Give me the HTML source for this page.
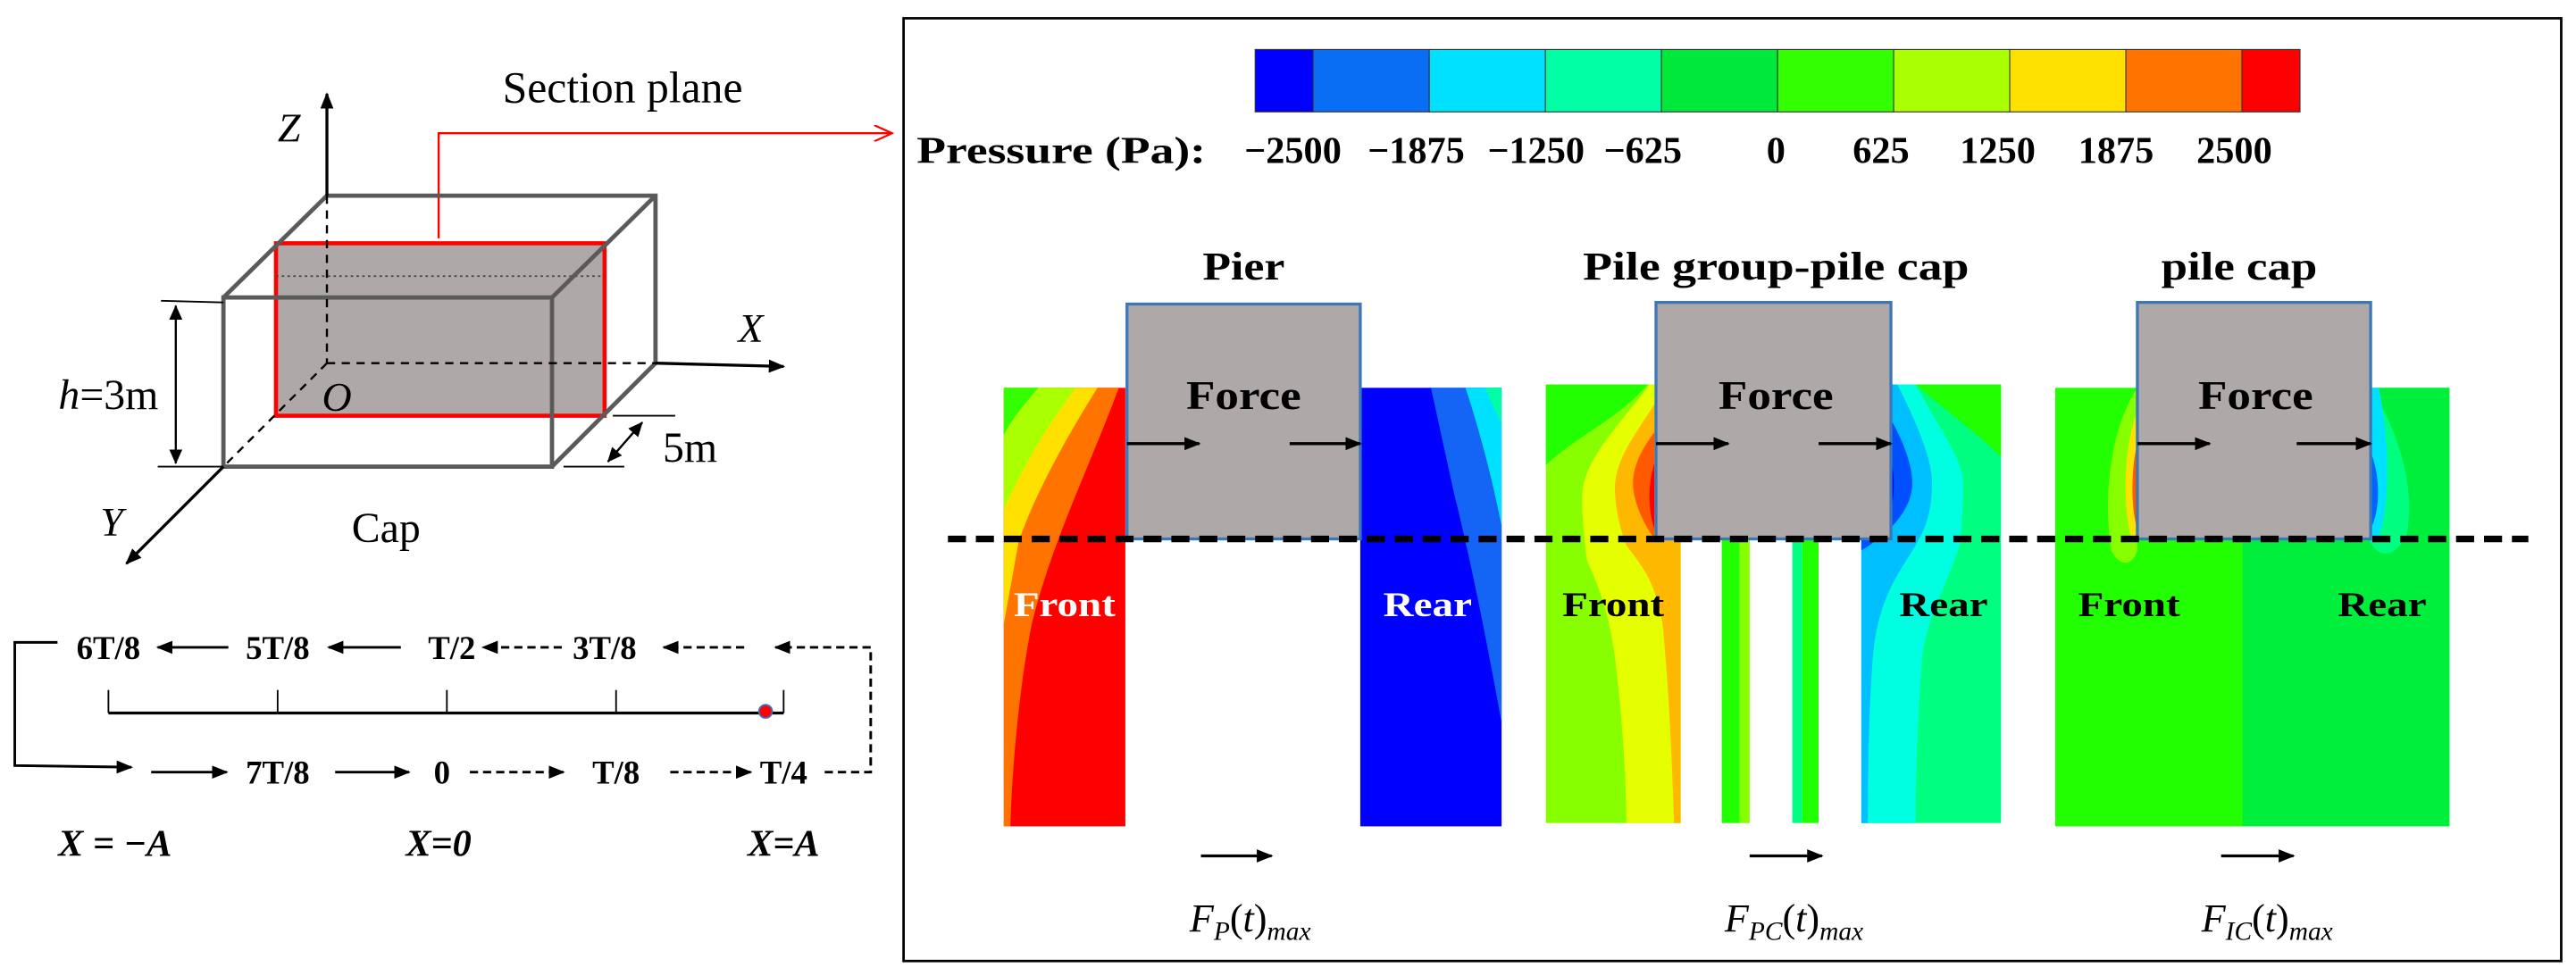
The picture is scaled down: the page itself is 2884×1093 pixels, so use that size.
<!DOCTYPE html>
<html><head><meta charset="utf-8"><style>
html,body{margin:0;padding:0;background:#fff;}
svg{display:block;}
.serif{font-family:"Liberation Serif",serif;}
</style></head><body>
<svg id="fig" width="2884" height="1093" viewBox="0 0 1568 594" xmlns="http://www.w3.org/2000/svg">
<defs>
<marker id="ah" markerWidth="10" markerHeight="8" refX="9" refY="4" orient="auto" markerUnits="userSpaceOnUse"><path d="M0,0 L10,4 L0,8 Z" fill="#000"/></marker>
<marker id="ahr" markerWidth="12" markerHeight="10" refX="11" refY="5" orient="auto" markerUnits="userSpaceOnUse"><path d="M0,0 L11,5 L0,10" fill="none" stroke="#f00" stroke-width="1.2"/></marker>
<marker id="dimA" markerWidth="9" markerHeight="8" refX="8.5" refY="4" orient="auto-start-reverse" markerUnits="userSpaceOnUse"><path d="M0,0 L9,4 L0,8 Z" fill="#000"/></marker>
</defs>

<!-- LEFT PANEL -->
<g>
  <text x="379" y="62" class="serif" font-size="27" text-anchor="middle">Section plane</text>
  <polyline points="267,145 267,81 543,81" fill="none" stroke="#f00" stroke-width="1.3" marker-end="url(#ahr)"/>
  <rect x="168" y="148" width="200" height="105" fill="#aea9a8" stroke="#f00" stroke-width="2.5"/>
  <line x1="168" y1="168" x2="368" y2="168" stroke="#444" stroke-width="1" stroke-dasharray="1.5,2"/>
  <g stroke="#5a5a5a" stroke-width="2.6" fill="none">
    <polyline points="136,181 199,119 399,119 399,221"/>
    <line x1="336" y1="181" x2="399" y2="119"/>
    <line x1="336" y1="284" x2="399" y2="221"/>
    <rect x="136" y="181" width="200" height="103"/>
  </g>
  <line x1="199" y1="57" x2="199" y2="119" stroke="#000" stroke-width="1.8" marker-end="url(#ah)" transform="rotate(180 199 88)"/>
  <line x1="199" y1="119" x2="199" y2="221" stroke="#000" stroke-width="1.3" stroke-dasharray="5,4"/>
  <line x1="199" y1="221" x2="399" y2="221" stroke="#000" stroke-width="1.3" stroke-dasharray="5,4"/>
  <line x1="399" y1="221" x2="477" y2="223" stroke="#000" stroke-width="1.8" marker-end="url(#ah)"/>
  <line x1="199" y1="221" x2="136" y2="284" stroke="#000" stroke-width="1.3" stroke-dasharray="5,4"/>
  <line x1="136" y1="284" x2="77" y2="343" stroke="#000" stroke-width="1.8" marker-end="url(#ah)"/>
  <text x="176" y="86" class="serif" font-size="25" font-style="italic" text-anchor="middle">Z</text>
  <text x="457" y="208" class="serif" font-size="25" font-style="italic" text-anchor="middle">X</text>
  <text x="68" y="326" class="serif" font-size="25" font-style="italic" text-anchor="middle">Y</text>
  <text x="205" y="250" class="serif" font-size="25" font-style="italic" text-anchor="middle">O</text>
  <text x="66" y="249" class="serif" font-size="26" text-anchor="middle"><tspan font-style="italic">h</tspan>=3m</text>
  <line x1="98" y1="183" x2="136" y2="184" stroke="#000" stroke-width="1"/>
  <line x1="96" y1="284" x2="136" y2="284" stroke="#000" stroke-width="1"/>
  <line x1="107" y1="186" x2="107" y2="282" stroke="#000" stroke-width="1.3" marker-start="url(#dimA)" marker-end="url(#dimA)"/>
  <line x1="373" y1="253" x2="411" y2="253" stroke="#000" stroke-width="1"/>
  <line x1="343" y1="284" x2="380" y2="284" stroke="#000" stroke-width="1"/>
  <line x1="370" y1="281" x2="391" y2="257" stroke="#000" stroke-width="1.3" marker-start="url(#dimA)" marker-end="url(#dimA)"/>
  <text x="420" y="281" class="serif" font-size="26" text-anchor="middle">5m</text>
  <text x="235" y="330" class="serif" font-size="26" text-anchor="middle">Cap</text>
</g>

<g class="serif" font-weight="bold" font-size="20">
  <line x1="66" y1="434" x2="477" y2="434" stroke="#000" stroke-width="1.8"/>
  <g stroke="#000" stroke-width="1">
    <line x1="66" y1="420" x2="66" y2="434"/><line x1="169" y1="420" x2="169" y2="434"/>
    <line x1="272" y1="420" x2="272" y2="434"/><line x1="375" y1="420" x2="375" y2="434"/>
    <line x1="477" y1="420" x2="477" y2="434"/>
  </g>
  <circle cx="466" cy="433" r="4" fill="#f00" stroke="#3a6fc0" stroke-width="1"/>
  <text x="66" y="401" text-anchor="middle">6T/8</text>
  <text x="169" y="401" text-anchor="middle">5T/8</text>
  <text x="275" y="401" text-anchor="middle">T/2</text>
  <text x="368" y="401" text-anchor="middle">3T/8</text>
  <text x="169" y="477" text-anchor="middle">7T/8</text>
  <text x="269" y="477" text-anchor="middle">0</text>
  <text x="375" y="477" text-anchor="middle">T/8</text>
  <text x="477" y="477" text-anchor="middle">T/4</text>
  <g stroke="#000" stroke-width="1.6" fill="none">
    <line x1="139" y1="394" x2="96" y2="394" marker-end="url(#ah)"/>
    <line x1="244" y1="394" x2="200" y2="394" marker-end="url(#ah)"/>
    <line x1="342" y1="394" x2="294" y2="394" stroke-dasharray="5,3" marker-end="url(#ah)"/>
    <line x1="453" y1="394" x2="404" y2="394" stroke-dasharray="5,3" marker-end="url(#ah)"/>
    <line x1="92" y1="470" x2="138" y2="470" marker-end="url(#ah)"/>
    <line x1="204" y1="470" x2="249" y2="470" marker-end="url(#ah)"/>
    <line x1="286" y1="470" x2="343" y2="470" stroke-dasharray="5,3" marker-end="url(#ah)"/>
    <line x1="408" y1="470" x2="457" y2="470" stroke-dasharray="5,3" marker-end="url(#ah)"/>
    <polyline points="35,391 9,391 9,466 80,467" marker-end="url(#ah)"/>
    <polyline points="502,470 530,470 530,394 472,394" stroke-dasharray="5,3" marker-end="url(#ah)"/>
  </g>
  <text x="70" y="521" font-size="23" font-style="italic" text-anchor="middle">X = −A</text>
  <text x="267" y="521" font-size="23" font-style="italic" text-anchor="middle">X=0</text>
  <text x="477" y="521" font-size="23" font-style="italic" text-anchor="middle">X=A</text>
</g>

<!-- RIGHT PANEL -->
<rect x="550" y="11" width="1009" height="574" fill="none" stroke="#000" stroke-width="1.5"/>
<g id="colorbar"></g>
<text x="558" y="99" class="serif" font-weight="bold" font-size="23" textLength="176" lengthAdjust="spacingAndGlyphs">Pressure (Pa):</text>
<g id="cbticks" class="serif" font-weight="bold" font-size="23"></g>

<g class="serif" font-weight="bold" font-size="24" text-anchor="middle">
  <text x="757" y="170" textLength="50" lengthAdjust="spacingAndGlyphs">Pier</text>
  <text x="1081" y="170" textLength="235" lengthAdjust="spacingAndGlyphs">Pile group-pile cap</text>
  <text x="1363" y="170" textLength="95" lengthAdjust="spacingAndGlyphs">pile cap</text>
</g>

<!-- Pier contours -->
<g>
  <rect x="611" y="236" width="74" height="267" fill="#ff0000"/>
  <path d="M611,236 L681,236 C665,280 640,330 628,380 C620,420 616,470 615,503 L611,503 Z" fill="#ff7300"/>
  <path d="M611,236 L668,236 C650,265 630,300 620,330 L611,380 Z" fill="#ffe100"/>
  <path d="M611,236 L655,236 C638,258 622,285 611,310 Z" fill="#aaff00"/>
  <path d="M611,236 L632,236 C622,248 615,256 611,265 Z" fill="#33ff00"/>
  <rect x="828" y="236" width="86" height="267" fill="#0000ff"/>
  <path d="M871,236 L914,236 L914,440 C905,390 895,340 885,300 Z" fill="#1464f5"/>
  <path d="M892,236 L914,236 L914,320 C908,290 900,260 892,236 Z" fill="#00e1ff"/>
  <path d="M904,236 L914,236 L914,258 Z" fill="#00ffa5"/>
</g>
<!-- Pile group contours -->
<g>
  <rect x="941" y="234" width="82" height="267" fill="#88ff00"/>
  <path d="M941,234 L1003,234 C985,255 960,265 941,283 Z" fill="#22ff00"/>
  <path d="M1004,234 C985,260 963,280 963,303 C963,320 966,341 966,341 C972,355 979,370 983,400 C988,440 990,480 990,501 L1023,501 L1023,234 Z" fill="#e5ff00"/>
  <path d="M1007,246 C995,265 983,280 983,297 C983,315 990,332 990,332 C1000,345 1008,355 1012,380 C1016,420 1018,470 1019,501 L1023,501 L1023,246 Z" fill="#ffb800"/>
  <path d="M1007,263 C998,275 994,285 994,294 C994,305 1000,318 1007,328 Z" fill="#ff5a00"/>
  <path d="M1007,282 C1003,295 1003,310 1007,322 Z" fill="#ff0000"/>
  <rect x="1048" y="328" width="11" height="173" fill="#22ff00"/>
  <rect x="1059" y="328" width="6" height="173" fill="#88ff00"/>
  <rect x="1091" y="328" width="6" height="173" fill="#00ff80"/>
  <rect x="1097" y="328" width="10" height="173" fill="#22ff00"/>
  <rect x="1149" y="234" width="69" height="94" fill="#00ff80"/>
  <rect x="1133" y="328" width="85" height="173" fill="#00ff80"/>
  <path d="M1166,234 C1185,250 1205,265 1218,278 L1218,234 Z" fill="#22ff00"/>
  <path d="M1149,234 L1166,234 C1180,260 1195,280 1195,294 C1195,315 1193,332 1193,332 C1183,360 1172,380 1170,400 C1167,440 1166,480 1166,501 L1133,501 L1133,328 L1149,328 Z" fill="#00ffe0"/>
  <path d="M1149,234 L1155,234 C1168,260 1176,280 1176,294 C1176,315 1170,325 1166,332 C1155,350 1143,365 1140,400 C1137,440 1137,480 1137,501 L1133,501 L1133,328 L1149,328 Z" fill="#00bfff"/>
  <path d="M1149,252 C1160,270 1164,285 1164,294 C1164,310 1150,325 1133,335 L1133,328 L1149,328 Z" fill="#0050ff"/>
  <path d="M1149,274 C1154,285 1154,305 1149,316 Z" fill="#0000ff"/>
</g>
<!-- Pile cap contours -->
<g>
  <rect x="1251" y="236" width="240" height="267" fill="#22ff00"/>
  <rect x="1365" y="236" width="126" height="267" fill="#00ee3c"/>
  <path d="M1301,236 C1285,260 1280,300 1285,335 C1290,345 1298,345 1301,335 Z" fill="#88ff00"/>
  <path d="M1301,250 C1292,275 1292,310 1298,330 L1301,330 Z" fill="#ffe100"/>
  <path d="M1301,270 C1297,285 1297,310 1301,322 Z" fill="#ff5a00"/>
  <path d="M1443,236 C1462,265 1470,300 1465,325 C1458,340 1448,340 1443,330 Z" fill="#00ff80"/>
  <path d="M1443,236 L1448,236 C1455,270 1455,310 1447,330 L1443,330 Z" fill="#00e1ff"/>
  <path d="M1443,275 C1449,290 1449,310 1443,322 Z" fill="#0064ff"/>
</g>

<!-- Grey boxes -->
<g fill="#aea9a8" stroke="#3c78b8" stroke-width="1.8">
  <rect x="686" y="185" width="142" height="143"/>
  <rect x="1008" y="184" width="143" height="144"/>
  <rect x="1301" y="184" width="142" height="144"/>
</g>
<g class="serif" font-weight="bold" font-size="25" text-anchor="middle">
  <text x="757" y="249" textLength="70" lengthAdjust="spacingAndGlyphs">Force</text>
  <text x="1081" y="249" textLength="70" lengthAdjust="spacingAndGlyphs">Force</text>
  <text x="1373" y="249" textLength="70" lengthAdjust="spacingAndGlyphs">Force</text>
</g>
<g stroke="#000" stroke-width="1.8">
  <line x1="686" y1="270" x2="730" y2="270" marker-end="url(#ah)"/>
  <line x1="785" y1="270" x2="828" y2="270" marker-end="url(#ah)"/>
  <line x1="1008" y1="270" x2="1052" y2="270" marker-end="url(#ah)"/>
  <line x1="1107" y1="270" x2="1151" y2="270" marker-end="url(#ah)"/>
  <line x1="1301" y1="270" x2="1345" y2="270" marker-end="url(#ah)"/>
  <line x1="1398" y1="270" x2="1443" y2="270" marker-end="url(#ah)"/>
</g>
<line x1="577" y1="328" x2="1539" y2="328" stroke="#000" stroke-width="4" stroke-dasharray="11,6"/>
<g class="serif" font-weight="bold" font-size="21" text-anchor="middle">
  <text x="648" y="375" fill="#fff" textLength="62" lengthAdjust="spacingAndGlyphs">Front</text>
  <text x="869" y="375" fill="#fff" textLength="54" lengthAdjust="spacingAndGlyphs">Rear</text>
  <text x="982" y="375" textLength="62" lengthAdjust="spacingAndGlyphs">Front</text>
  <text x="1183" y="375" textLength="54" lengthAdjust="spacingAndGlyphs">Rear</text>
  <text x="1296" y="375" textLength="62" lengthAdjust="spacingAndGlyphs">Front</text>
  <text x="1450" y="375" textLength="54" lengthAdjust="spacingAndGlyphs">Rear</text>
</g>
<g stroke="#000" stroke-width="1.8">
  <line x1="731" y1="521" x2="774" y2="521" marker-end="url(#ah)"/>
  <line x1="1065" y1="521" x2="1109" y2="521" marker-end="url(#ah)"/>
  <line x1="1352" y1="521" x2="1396" y2="521" marker-end="url(#ah)"/>
</g>
<g class="serif" font-size="24" text-anchor="middle" font-style="italic">
  <text x="761" y="567">F<tspan font-size="16" dy="5">P</tspan><tspan dy="-5" font-style="normal">(</tspan>t<tspan font-style="normal">)</tspan><tspan font-size="16" dy="5">max</tspan></text>
  <text x="1092" y="567">F<tspan font-size="16" dy="5">PC</tspan><tspan dy="-5" font-style="normal">(</tspan>t<tspan font-style="normal">)</tspan><tspan font-size="16" dy="5">max</tspan></text>
  <text x="1380" y="567">F<tspan font-size="16" dy="5">IC</tspan><tspan dy="-5" font-style="normal">(</tspan>t<tspan font-style="normal">)</tspan><tspan font-size="16" dy="5">max</tspan></text>
</g>
</svg>
<script>
const levelColors = ["#0000ff","#0a6ef5","#00e1ff","#00ffa5","#00e83a","#33ff00","#aaff00","#ffe100","#ff7300","#ff0000"];
const levelWidths = [0.5,1,1,1,1,1,1,1,1,0.5];
const tickValues = [-2500,-1875,-1250,-625,0,625,1250,1875,2500];
const tickLabelX = [787,862,935,1000,1081,1145,1216,1288,1360];
(function(){
  const NS="http://www.w3.org/2000/svg";
  const cb=document.getElementById('colorbar');
  const x0=764,x1=1400,y0=30,h=38;
  const total=levelWidths.reduce((a,b)=>a+b,0);
  let x=x0;
  levelColors.forEach((c,i)=>{
    const w=(x1-x0)*levelWidths[i]/total;
    const r=document.createElementNS(NS,'rect');
    r.setAttribute('x',x);r.setAttribute('y',y0);r.setAttribute('width',w);r.setAttribute('height',h);
    r.setAttribute('fill',c);r.setAttribute('stroke','#333');r.setAttribute('stroke-width','0.6');
    
    
    cb.appendChild(r);
    x+=w;
  });
  const g=document.getElementById('cbticks');
  tickValues.forEach((v,i)=>{
    const t=document.createElementNS(NS,'text');
    t.setAttribute('x',tickLabelX[i]);t.setAttribute('y',99);t.setAttribute('text-anchor','middle');
    t.textContent=(v<0?'\u2212'+Math.abs(v):String(v));
    
    
    g.appendChild(t);
  });
})();
</script>
</body></html>
